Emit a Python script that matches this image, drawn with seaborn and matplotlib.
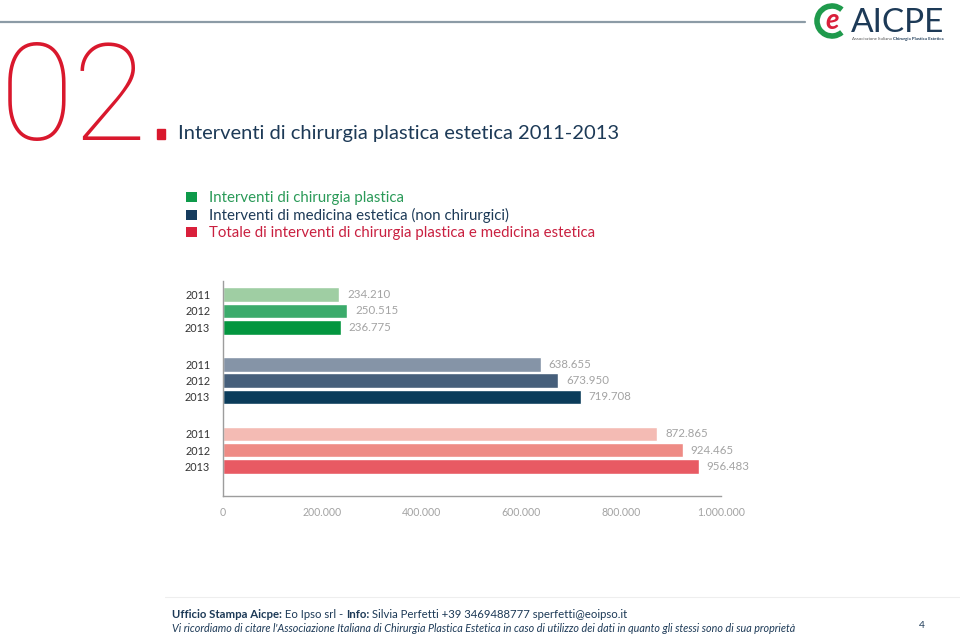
import matplotlib
matplotlib.use("Agg")
import matplotlib.pyplot as plt
import seaborn as sns
import pandas as pd
from matplotlib.patches import Patch, Rectangle, Arc
from matplotlib.ticker import FuncFormatter

# Data
years = ["2011", "2012", "2013"]
groups = [
    "Interventi di chirurgia plastica",
    "Interventi di medicina estetica (non chirurgici)",
    "Totale di interventi di chirurgia plastica e medicina estetica",
]
chirurgia = [234210, 250515, 236775]
medicina = [638655, 673950, 719708]
totale = [872865, 924465, 956483]
x_ticks = [0, 200000, 400000, 600000, 800000, 1000000]

# Colours
bar_colors = [
    ["#9fcea3", "#3bab6b", "#03963f"],
    ["#8594a7", "#465f7b", "#0b3c5a"],
    ["#f4bbb4", "#ee8b85", "#e85a63"],
]
legend_square = ["#0e9a4a", "#163c5e", "#d9203b"]
legend_text = ["#2a9a58", "#1d3a57", "#c92040"]
navy = "#1d3a57"
red = "#d9182d"

sns.set_style("white")
plt.rcParams["font.family"] = ["Lato", "DejaVu Sans"]

W, H = 960, 637


def fx(x):
    return x / W


def fy(y):
    return 1 - y / H


def it_fmt(v):
    return f"{int(v):,}".replace(",", ".")


# Build table for seaborn
group_step = 4.27
rows = []
for g, vals in enumerate([chirurgia, medicina, totale]):
    for i, (yr, v) in enumerate(zip(years, vals)):
        rows.append({"key": f"{g}-{yr}", "year": yr, "value": v,
                     "pos": g * group_step + i, "color": bar_colors[g][i]})
df = pd.DataFrame(rows)
palette = dict(zip(df["key"], df["color"]))

fig = plt.figure(figsize=(9.6, 6.37), dpi=100)
fig.patch.set_facecolor("white")

ax = fig.add_axes([fx(222.7), fy(496), (720.7 - 222.7) / W, (496 - 281) / H])
sns.barplot(data=df, x="value", y="pos", hue="key", palette=palette,
            orient="y", native_scale=True, width=0.89, errorbar=None,
            legend=False, saturation=1, ax=ax)

top = -0.84
ax.set_ylim(top + 215 / 16.3, top)
ax.set_xlim(0, 1000000)
ax.set_xticks(x_ticks)
ax.xaxis.set_major_formatter(FuncFormatter(lambda v, p: it_fmt(v)))
ax.set_yticks(df["pos"])
ax.set_yticklabels(df["year"])
ax.set_xlabel("")
ax.set_ylabel("")
ax.tick_params(axis="x", direction="in", length=4, width=1, color="#9d9d9d",
               labelsize=7.6, labelcolor="#a3a3a3", pad=8)
ax.tick_params(axis="y", length=0, labelsize=7.8, labelcolor="#333333", pad=9)
for s in ["top", "right"]:
    ax.spines[s].set_visible(False)
for s in ["left", "bottom"]:
    ax.spines[s].set_color("#9d9d9d")
    ax.spines[s].set_linewidth(1)

for _, r in df.iterrows():
    ax.annotate(it_fmt(r["value"]), xy=(r["value"], r["pos"]), xytext=(5.5, 0),
                textcoords="offset points", va="center", ha="left",
                fontsize=8.3, color="#a3a3a3")

# Legend
handles = [Patch(facecolor=c, edgecolor="none") for c in legend_square]
leg = fig.legend(handles, groups, loc="upper left",
                 bbox_to_anchor=(fx(186), fy(191)), frameon=False,
                 fontsize=10.8, handlelength=0.7, handleheight=0.7,
                 handletextpad=0.85, labelspacing=0.2, borderpad=0,
                 borderaxespad=0)
for t, c in zip(leg.get_texts(), legend_text):
    t.set_color(c)

# Header
fig.add_artist(plt.Line2D([0, fx(805)], [fy(22), fy(22)], color="#8c9ba6",
                          lw=1.6))
fig.text(fx(0), fy(140), "02", fontsize=97, color=red, fontweight="light",
         family=["Roboto", "Lato"], ha="left", va="baseline")
fig.add_artist(Rectangle((fx(157), fy(139)), 8 / W, 10 / H, color=red,
                         transform=fig.transFigure))
fig.text(fx(178), fy(139), "Interventi di chirurgia plastica estetica 2011-2013",
         fontsize=14.5, color=navy, ha="left", va="baseline")

# Logo
fig.add_artist(Arc((fx(832), fy(21)), 30 / W, 30 / H, theta1=60, theta2=300,
                   color="#1f9a4c", lw=4, transform=fig.transFigure))
fig.text(fx(832), fy(21), "e", fontsize=20, color="#d9203b", fontweight="bold",
         style="italic", ha="center", va="center")
fig.text(fx(851), fy(32), "AICPE", fontsize=24, color=navy, ha="left",
         va="baseline")
logo_small = fig.text(fx(852), fy(40), "Associazione Italiana ", fontsize=3.2,
                      color="#555555", ha="left", va="baseline")
ax.annotate("Chirurgia Plastica Estetica", xy=(1, 0), xycoords=logo_small,
            va="bottom", ha="left", fontsize=3.2, color=navy,
            fontweight="bold", annotation_clip=False)

# Footer
fig.add_artist(plt.Line2D([fx(165), 1], [fy(597), fy(597)], color="#eeeeee",
                          lw=0.8))
pieces = [("Ufficio Stampa Aicpe:", "bold"), (" Eo Ipso srl - ", "normal"),
          ("Info:", "bold"),
          (" Silvia Perfetti +39 3469488777 sperfetti@eoipso.it", "normal")]
prev = fig.text(fx(172), fy(618), pieces[0][0], fontsize=8.2, color=navy,
                fontweight=pieces[0][1], ha="left", va="baseline")
for txt, wt in pieces[1:]:
    prev = ax.annotate(txt, xy=(1, 0), xycoords=prev, va="bottom", ha="left",
                       fontsize=8.2, color=navy, fontweight=wt,
                       annotation_clip=False)
fig.text(fx(172), fy(632),
         "Vi ricordiamo di citare l'Associazione Italiana di Chirurgia Plastica "
         "Estetica in caso di utilizzo dei dati in quanto gli stessi sono di sua "
         "proprietà", fontsize=7.72, color=navy, style="italic", ha="left",
         va="baseline")
fig.text(fx(922), fy(628), "4", fontsize=7.5, color=navy, ha="center",
         va="baseline")

fig.savefig("out.png", dpi=100)
